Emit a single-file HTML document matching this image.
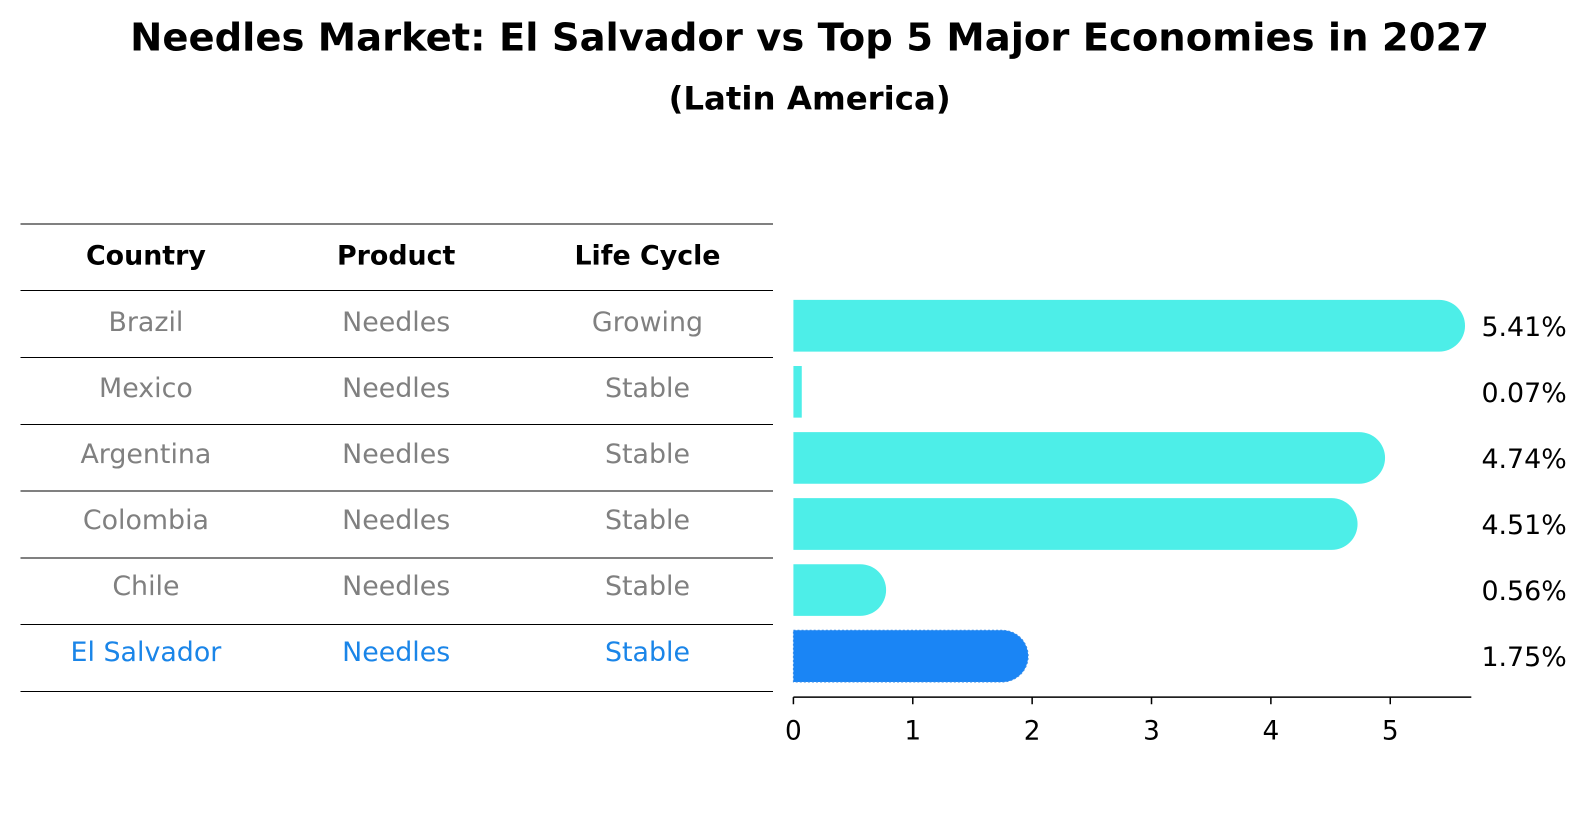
<!DOCTYPE html>
<html><head><meta charset="utf-8"><style>
html,body{margin:0;padding:0;background:#fff;width:1586px;height:823px;overflow:hidden}
svg{display:block}
</style></head><body>
<svg width="1586" height="823" font-family="DejaVu Sans, Liberation Sans, sans-serif">
<g transform="scale(1.0133)">
<text x="799" y="50" text-anchor="middle" font-size="38" font-weight="bold">Needles Market: El Salvador vs Top 5 Major Economies in 2027</text>
<text x="799" y="108" text-anchor="middle" font-size="32" font-weight="bold">(Latin America)</text>
<g id="table"></g>
<g id="bars"></g>
</g>
</svg>
<script>
const countries=["Brazil","Mexico","Argentina","Colombia","Chile","El Salvador"];
const products=["Needles","Needles","Needles","Needles","Needles","Needles"];
const lifeCycles=["Growing","Stable","Stable","Stable","Stable","Stable"];
const values=[5.41,0.07,4.74,4.51,0.56,1.75];
const ticks=[0,1,2,3,4,5];
const NS="http://www.w3.org/2000/svg";
function mk(t,a,p){const e=document.createElementNS(NS,t);for(const k in a)e.setAttribute(k,a[k]);p.appendChild(e);return e;}
const tb=document.getElementById('table'),bg=document.getElementById('bars');
const rowY=i=>221+65.9*i, colX=[144,391,639];
for(let i=0;i<8;i++){const l=mk('line',{x1:20,x2:763,y1:rowY(i),y2:rowY(i),stroke:'#000','stroke-width':1,'shape-rendering':'crispEdges'},tb);

}
["Country","Product","Life Cycle"].forEach((h,j)=>{const t=mk('text',{x:colX[j],y:261,'text-anchor':'middle','font-size':26.5,'font-weight':'bold'},tb);t.textContent=h;

});
const xs=v=>783+v*117.8, cy=i=>321.5+65.2*i, bh=51;
countries.forEach((c,i)=>{
 const hl=c==="El Salvador";const col=hl?'#1a85e8':'#808080';
 [c,products[i],lifeCycles[i]].forEach((s,j)=>{const t=mk('text',{x:colX[j],y:cy(i)+5,'text-anchor':'middle','font-size':26.5,fill:col},tb);t.textContent=s;
 
 });
 const v=values[i],x0=xs(0),x1=xs(v),fill=hl?'#1a85f5':'#4deee8';
 let d;
 if(v<0.1){d=`M${x0},${cy(i)-bh/2}H${x1}V${cy(i)+bh/2}H${x0}Z`;}
 else d=`M${x0},${cy(i)-bh/2}H${x1}A${bh/2},${bh/2} 0 0 1 ${x1},${cy(i)+bh/2}H${x0}Z`;
 const p=mk('path',{d,fill,stroke:hl?'#3a8ee8':'none','stroke-dasharray':hl?'2,2':'none'},bg);
 
 
 const t=mk('text',{x:1462,y:cy(i)+10,'font-size':26.5},bg);t.textContent=v.toFixed(2)+'%';
 
 
});
const ax=mk('line',{x1:783,x2:1452,y1:688,y2:688,stroke:'#000','stroke-width':1.5},bg);


ticks.forEach(v=>{const l=mk('line',{x1:xs(v),x2:xs(v),y1:688,y2:695,stroke:'#000','stroke-width':1.5},bg);


const t=mk('text',{x:xs(v),y:730,'text-anchor':'middle','font-size':26},bg);t.textContent=v;

});
</script>
</body></html>
